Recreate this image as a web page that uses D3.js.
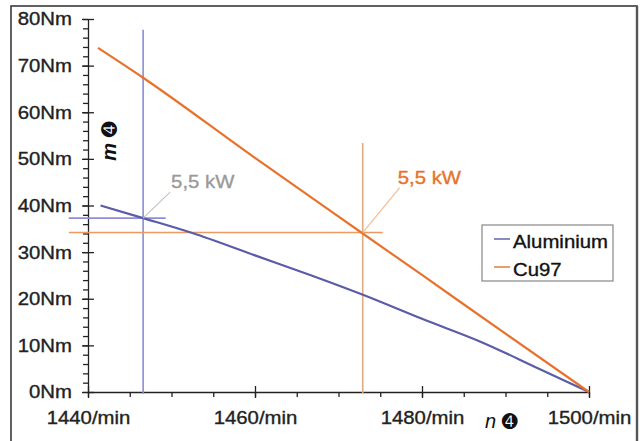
<!DOCTYPE html>
<meta charset="utf-8">
<script src="https://d3js.org/d3.v7.min.js"></script>
<style>
  body { margin: 0; background: #fff; }
  text { font-family: "Liberation Sans", Arial, sans-serif; }
</style>
<div id="chart"></div>
<script>

// speed (1/min) and torque (Nm)
var aluSpeed  = [1441.5, 1446.6, 1452.5, 1460, 1466.6, 1473, 1480, 1487, 1494, 1500];
var aluTorque = [40, 37.3, 34.1, 29.3, 25.1, 20.8, 15.7, 10.8, 5.0, 0];
var cuSpeed   = [1441.2, 1446.6, 1460, 1472.9, 1480, 1490, 1500];
var cuTorque  = [73.8, 67.4, 50.2, 34.0, 25.1, 12.5, 0];

// 5,5 kW operating points
var opName   = ["Aluminium", "Cu97"];
var opSpeed  = [1446.6, 1472.9];
var opTorque = [37.3, 34.2];
var opLabel  = ["5,5 kW", "5,5 kW"];

var xTicks = [1440, 1460, 1480, 1500];
var yTicks = [0, 10, 20, 30, 40, 50, 60, 70, 80];
var seriesNames = ["Aluminium", "Cu97"];

var W = 642, H = 441;
var plotLeft = 88, plotRight = 589, plotTop = 19, plotBottom = 392;

var colors = {Aluminium: "#5a5ca8", Cu97: "#e8722c"};
var lightV = {Aluminium: "#8c8cd2", Cu97: "#dcab82"};
var lightH = {Aluminium: "#8e8ed8", Cu97: "#ec9a62"};
var leader = {Aluminium: "#c4c4c4", Cu97: "#f3bd96"};
var labelCol = {Aluminium: "#9a9a9a", Cu97: "#e8722c"};
var FS = 18.5, WIDEN = 1.1;

var svg = d3.select("#chart").append("svg")
  .attr("width", W).attr("height", H);

// outer frame
svg.append("rect")
  .attr("x", 11).attr("y", 6).attr("width", 626).attr("height", 445)
  .attr("fill", "#fff").attr("stroke", "#3a3a3a").attr("stroke-width", 1.6);
svg.append("line")
  .attr("x1", 637).attr("x2", 637).attr("y1", 6).attr("y2", H)
  .attr("stroke", "#555").attr("stroke-width", 2.4);

var x = d3.scaleLinear().domain([1440, 1500]).range([plotLeft, plotRight]);
var y = d3.scaleLinear().domain([0, 80]).range([plotBottom, plotTop]);

// stretch text horizontally and thicken it a little, like the picture
function widen(sel) {
  sel.each(function() {
    var len = this.getComputedTextLength();
    var t = d3.select(this);
    t.attr("textLength", len * WIDEN).attr("lengthAdjust", "spacingAndGlyphs")
      .attr("stroke", t.attr("fill")).attr("stroke-width", 0.35);
  });
}

// minor ticks
svg.append("g")
  .attr("transform", "translate(" + plotLeft + ",0)")
  .call(d3.axisLeft(y).tickValues(d3.range(0, 81, 2)).tickSize(5).tickFormat(""))
  .call(g => g.select(".domain").remove());
svg.append("g")
  .attr("transform", "translate(0," + plotBottom + ")")
  .call(d3.axisBottom(x).tickValues(d3.range(1440, 1501, 5)).tickSize(5).tickFormat(""))
  .call(g => g.select(".domain").remove());

// major axes
var yAxis = svg.append("g")
  .attr("transform", "translate(" + plotLeft + ",0)")
  .call(d3.axisLeft(y).tickValues(yTicks).tickSizeInner(6).tickSizeOuter(0)
    .tickPadding(10).tickFormat(d => d + "Nm"));
yAxis.selectAll(".tick line").attr("x1", 6);

var xAxis = svg.append("g")
  .attr("transform", "translate(0," + plotBottom + ")")
  .call(d3.axisBottom(x).tickValues(xTicks).tickSizeInner(6).tickSizeOuter(0)
    .tickPadding(13).tickFormat(d => d + "/min"));
xAxis.selectAll(".tick line").attr("y1", -6);

svg.selectAll(".tick line, .domain").attr("stroke", "#222").attr("stroke-width", 1.3);
svg.selectAll(".tick text").attr("font-size", FS).attr("fill", "#222")
  .attr("font-family", "'Liberation Sans', Arial, sans-serif").call(widen);

// axis titles
var yTitle = svg.append("text")
  .attr("transform", "translate(116,141) rotate(-90)")
  .attr("text-anchor", "middle")
  .attr("font-size", 20).attr("fill", "#111");
yTitle.append("tspan").attr("font-style", "italic").attr("font-weight", "bold").text("m  ");
yTitle.append("tspan").attr("font-family", "DejaVu Sans").attr("font-size", 19).text("\u278D");

var xTitle = svg.append("text")
  .attr("x", 485).attr("y", 428)
  .attr("font-size", 20).attr("fill", "#111");
xTitle.append("tspan").attr("font-style", "italic").text("n  ");
xTitle.append("tspan").attr("font-family", "DejaVu Sans").attr("font-size", 19).text("\u278D");

// crosshairs at the operating points
var ext = {Aluminium: {t0: -0.4, t1: 77.7, n0: 1437.7, n1: 1449.3},
           Cu97:      {t0: -0.3, t1: 53.4, n0: 1437.7, n1: 1475.3}};
opName.forEach(function(name, i) {
  var e = ext[name];
  svg.append("line")
    .attr("x1", x(opSpeed[i])).attr("x2", x(opSpeed[i]))
    .attr("y1", y(e.t0)).attr("y2", y(e.t1))
    .attr("stroke", lightV[name]).attr("stroke-width", 1.6);
  svg.append("line")
    .attr("x1", x(e.n0)).attr("x2", x(e.n1))
    .attr("y1", y(opTorque[i])).attr("y2", y(opTorque[i]))
    .attr("stroke", lightH[name]).attr("stroke-width", 1.6);
});

// curves
var line = d3.line().x(d => x(d[0])).y(d => y(d[1])).curve(d3.curveMonotoneX);
var curves = {Aluminium: d3.zip(aluSpeed, aluTorque), Cu97: d3.zip(cuSpeed, cuTorque)};
seriesNames.forEach(function(name) {
  svg.append("path")
    .datum(curves[name])
    .attr("d", line)
    .attr("fill", "none")
    .attr("stroke", colors[name])
    .attr("stroke-width", 2.2);
});

// leader lines and labels
var off = {Aluminium: {lx: 27, ly: -26, tx: 28, ty: -30},
           Cu97:      {lx: 37, ly: -45, tx: 35, ty: -49}};
opName.forEach(function(name, i) {
  var px = x(opSpeed[i]), py = y(opTorque[i]), o = off[name];
  svg.append("line")
    .attr("x1", px).attr("y1", py).attr("x2", px + o.lx).attr("y2", py + o.ly)
    .attr("stroke", leader[name]).attr("stroke-width", 1.2);
  svg.append("text")
    .attr("x", px + o.tx).attr("y", py + o.ty)
    .attr("font-size", FS).attr("fill", labelCol[name])
    .text(opLabel[i]).call(widen);
});

// legend
var legend = svg.append("g").attr("transform", "translate(482,225)");
legend.append("rect")
  .attr("width", 131).attr("height", 56)
  .attr("fill", "#fff").attr("stroke", "#888").attr("stroke-width", 1.2);
seriesNames.forEach(function(name, i) {
  legend.append("line")
    .attr("x1", 12).attr("x2", 28)
    .attr("y1", 14 + i * 28).attr("y2", 14 + i * 28)
    .attr("stroke", colors[name]).attr("stroke-width", 2).attr("opacity", 0.7);
  legend.append("text")
    .attr("x", 31).attr("y", 23 + i * 28)
    .attr("font-size", FS).attr("fill", "#111")
    .text(name).call(widen);
});

</script>
